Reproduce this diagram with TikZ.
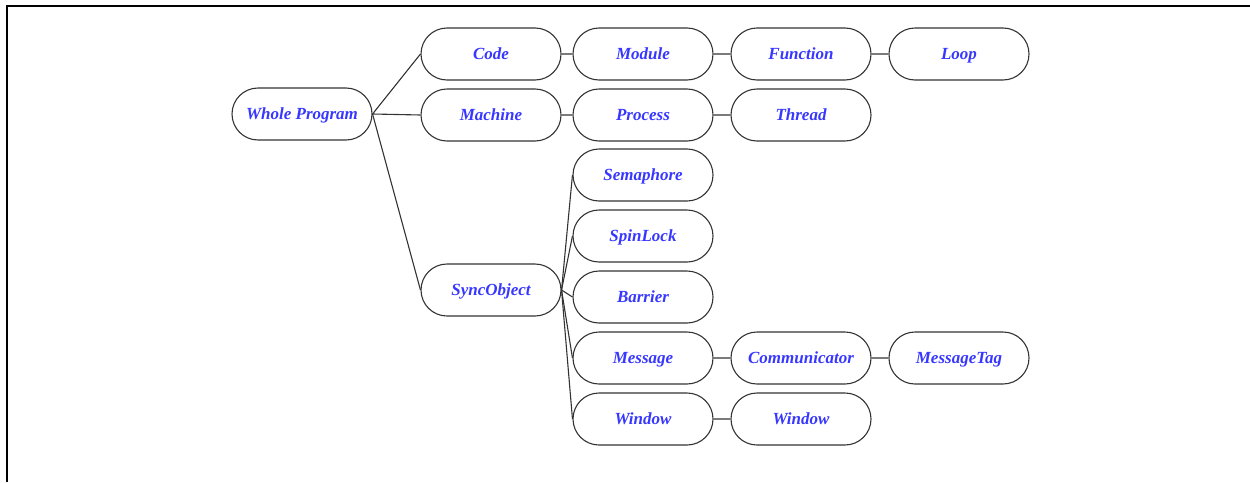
\documentclass[tikz,border=0pt]{standalone}
\usepackage{fontspec}
\setmainfont{Liberation Serif}
\usetikzlibrary{shapes.misc}
\definecolor{labelblue}{RGB}{55,55,255}
\begin{document}
\begin{tikzpicture}[x=1pt,y=-1pt,
    box/.style={draw=black!80, line width=1.1pt, rounded rectangle,
        minimum width=140pt, minimum height=52pt, inner sep=0pt,
        text height=14pt, text depth=2.6pt,
        font=\fontsize{17}{20}\selectfont\bfseries\itshape, text=labelblue},
    link/.style={draw=black!80, line width=1.1pt}]
        \useasboundingbox (0,0) rectangle (1250,482);
        % Frame (only top and left edges show)
        \draw[line width=2pt] (7,482) -- (7,6) -- (1250,6);
        % Root
        \node[box] (whole) at (302,114) {Whole Program};
        % First level
        \node[box] (code) at (491,54) {Code};
        \node[box] (machine) at (491,115) {Machine};
        \node[box] (sync) at (491,290) {SyncObject};
        % Code chain
        \node[box] (module) at (643,54) {Module};
        \node[box] (function) at (801,54) {Function};
        \node[box] (loop) at (959,54) {Loop};
        % Machine chain
        \node[box] (process) at (643,115) {Process};
        \node[box] (thread) at (801,115) {Thread};
        % Sync objects
        \node[box] (sema) at (643,175) {Semaphore};
        \node[box] (spin) at (643,236) {SpinLock};
        \node[box] (barrier) at (643,297) {Barrier};
        \node[box] (message) at (643,358) {Message};
        \node[box] (window) at (643,419) {Window};
        \node[box] (comm) at (801,358) {Communicator};
        \node[box] (tag) at (959,358) {MessageTag};
        \node[box] (window2) at (801,419) {Window};
        % Connectors
        \foreach \n in {code,machine,sync}
            \draw[link] (whole.east) -- (\n.west);
        \foreach \n in {sema,spin,barrier,message,window}
            \draw[link] (sync.east) -- (\n.west);
        \draw[link] (code) -- (module) -- (function) -- (loop);
        \draw[link] (machine) -- (process) -- (thread);
        \draw[link] (message) -- (comm) -- (tag);
        \draw[link] (window) -- (window2);
\end{tikzpicture}
\end{document}
